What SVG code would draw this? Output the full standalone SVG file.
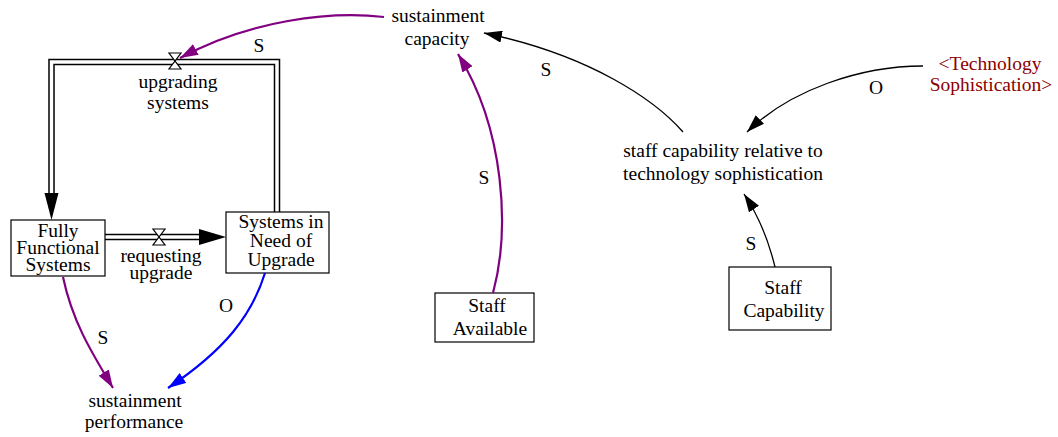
<svg xmlns="http://www.w3.org/2000/svg" width="1058" height="437" viewBox="0 0 1058 437" font-family="'Liberation Serif', 'Times New Roman', Times, serif" font-size="19.5">
  <style>
    text { fill: #000; text-anchor: middle; }
    .shadow { fill: #8b0000; }
    .box { fill: #fff; stroke: #000; stroke-width: 1.2; }
    .pipe-outer { fill: none; stroke: #000; stroke-width: 6.5; }
    .pipe-inner { fill: none; stroke: #fff; stroke-width: 3.5; }
    .valve { fill: #fff; stroke: #000; stroke-width: 1.2; }
    .link { fill: none; }
    .purple { stroke: #800080; stroke-width: 2.2; }
    .blue { stroke: #0000ff; stroke-width: 2.2; }
    .black { stroke: #000; stroke-width: 1.3; }
  </style>
  <defs>
    <marker id="ah-purple" viewBox="0 0 18 12" refX="18" refY="6" markerWidth="18" markerHeight="12" markerUnits="userSpaceOnUse" orient="auto">
      <path d="M0,0 L18,6 L0,12 Z" fill="#800080"/>
    </marker>
    <marker id="ah-blue" viewBox="0 0 18 12" refX="18" refY="6" markerWidth="18" markerHeight="12" markerUnits="userSpaceOnUse" orient="auto">
      <path d="M0,0 L18,6 L0,12 Z" fill="#0000ff"/>
    </marker>
    <marker id="ah-black" viewBox="0 0 18 12" refX="18" refY="6" markerWidth="18" markerHeight="12" markerUnits="userSpaceOnUse" orient="auto">
      <path d="M0,0 L18,6 L0,12 Z" fill="#000"/>
    </marker>
  </defs>

  <!-- material flows (pipes, valves, flow arrowheads) -->
  <g id="flow-upgrading-systems">
    <path class="pipe-outer" d="M277,213 L277,62 L51.5,62 L51.5,196"/>
    <path class="pipe-inner" d="M277,214 L277,62 L51.5,62 L51.5,197"/>
    <path d="M44.5,193 L58.5,193 L51.5,220 Z" fill="#000"/>
    <path class="valve" d="M169,53 L181,53 L169,69 L181,69 Z"/>
    <text x="178" y="88">upgrading</text>
    <text x="178" y="109">systems</text>
  </g>
  <g id="flow-requesting-upgrade">
    <path class="pipe-outer" d="M105,237 L201,237"/>
    <path class="pipe-inner" d="M104,237 L202,237"/>
    <path d="M199,229 L226,237 L199,245 Z" fill="#000"/>
    <path class="valve" d="M153,229 L165,229 L153,245 L165,245 Z"/>
    <text x="161" y="262">requesting</text>
    <text x="161" y="279">upgrade</text>
  </g>

  <!-- stocks -->
  <g id="stock-fully-functional-systems">
    <rect class="box" x="11" y="220" width="94" height="56"/>
    <text x="58" y="237">Fully</text>
    <text x="58" y="254">Functional</text>
    <text x="58" y="271">Systems</text>
  </g>
  <g id="stock-systems-in-need-of-upgrade">
    <rect class="box" x="226" y="212" width="103" height="61"/>
    <text x="281" y="228">Systems in</text>
    <text x="281" y="247">Need of</text>
    <text x="281" y="266">Upgrade</text>
  </g>
  <g id="stock-staff-available">
    <rect class="box" x="435" y="293" width="99" height="49"/>
    <text x="487" y="312">Staff</text>
    <text x="490" y="335">Available</text>
  </g>
  <g id="stock-staff-capability">
    <rect class="box" x="729" y="267" width="102" height="63"/>
    <text x="783" y="294">Staff</text>
    <text x="784" y="317">Capability</text>
  </g>

  <!-- auxiliaries -->
  <g id="aux-sustainment-capacity">
    <text x="438" y="22">sustainment</text>
    <text x="437" y="45">capacity</text>
  </g>
  <g id="aux-staff-capability-relative">
    <text x="723" y="157">staff capability relative to</text>
    <text x="723" y="180">technology sophistication</text>
  </g>
  <g id="aux-technology-sophistication">
    <text class="shadow" x="990" y="70">&lt;Technology</text>
    <text class="shadow" x="991" y="91">Sophistication&gt;</text>
  </g>
  <g id="aux-sustainment-performance">
    <text x="135" y="407">sustainment</text>
    <text x="134" y="428">performance</text>
  </g>

  <!-- causal links -->
  <g id="connectors">
    <path class="link purple" d="M384,17 C330,11 250,20 180,58" marker-end="url(#ah-purple)"/>
    <text x="259" y="52">S</text>

    <path class="link black" d="M683,132 C655,100 590,55 484,33" marker-end="url(#ah-black)"/>
    <text x="546" y="76">S</text>

    <path class="link purple" d="M493,293 C510,230 505,130 458,54" marker-end="url(#ah-purple)"/>
    <text x="484" y="184">S</text>

    <path class="link black" d="M923,66 C860,66 790,90 747,132" marker-end="url(#ah-black)"/>
    <text x="876" y="94">O</text>

    <path class="link black" d="M775,267 C768,238 758,215 744,194" marker-end="url(#ah-black)"/>
    <text x="751" y="250">S</text>

    <path class="link purple" d="M63,277 C72,320 90,350 113,388" marker-end="url(#ah-purple)"/>
    <text x="103" y="344">S</text>

    <path class="link blue" d="M265,273 C252,315 225,350 168,388" marker-end="url(#ah-blue)"/>
    <text x="226" y="312">O</text>
  </g>
</svg>
